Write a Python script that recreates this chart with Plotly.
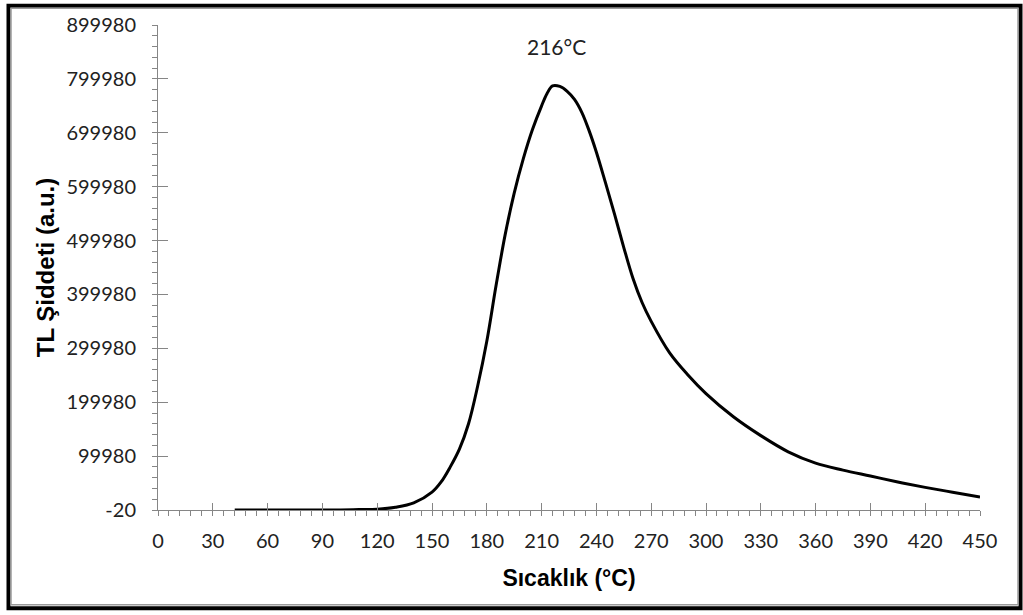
import plotly.graph_objects as go

# Glow curve: temperature (°C) vs TL intensity (a.u.)
temperature = [42, 60, 80, 100, 110, 120, 130, 140, 150, 155, 160, 165, 170, 175,
               180, 185, 190, 195, 200, 205, 210, 213, 216, 220, 224, 228, 232, 236,
               240, 245, 250, 255, 260, 265, 270, 280, 290, 300, 315, 330, 345, 360,
               375, 390, 405, 420, 435, 450]
intensity = [0, 0, 0, 200, 800, 1500, 5000, 13000, 33000, 52000, 80000, 113000,
             160000, 230000, 313000, 415000, 510000, 588000, 652000, 706000,
             750000, 773000, 787000, 786000, 777000, 762000, 738000, 704000,
             664000, 607000, 548000, 487000, 430000, 385000, 350000, 292000,
             251000, 216000, 173000, 138000, 108000, 87000, 74000, 63000, 52000,
             42000, 33000, 24000]

peak_label = "216°C"
peak_temp = 216
peak_label_y = 856000

y_ticks = [-20, 99980, 199980, 299980, 399980, 499980, 599980, 699980, 799980, 899980]
x_ticks = list(range(0, 451, 30))

x_title = "Sıcaklık (°C)"
y_title = "TL Şiddeti (a.u.)"

W, H = 1023, 615
L, R, T, B = 158, 43, 21, 105
PW, PH = W - L - R, H - T - B

axis_grey = "#868686"
tick_font = dict(family="Lato, Open Sans, sans-serif", size=20, color="#222222")
x_title_font = dict(family="Liberation Sans, Arial, sans-serif", size=23,
                    color="#000000", weight="bold")
y_title_font = dict(family="Liberation Sans, Arial, sans-serif", size=24,
                    color="#000000", weight="bold")

fig = go.Figure()
fig.add_trace(go.Scatter(
    x=temperature, y=intensity, mode="lines",
    line=dict(color="#000000", width=3, shape="spline", smoothing=1.0),
    showlegend=False, hoverinfo="skip",
))
# empty trace that carries the overlay axes used for the inward half of the major ticks
fig.add_trace(go.Scatter(x=[], y=[], xaxis="x2", yaxis="y2", showlegend=False))

xr = [0, 450]
yr = [-20, 899980]

fig.update_layout(
    width=W, height=H,
    margin=dict(l=L, r=R, t=T, b=B),
    paper_bgcolor="white", plot_bgcolor="white",
    xaxis=dict(
        range=xr, tickvals=x_ticks, ticktext=[str(v) for v in x_ticks],
        showgrid=False, zeroline=False, showline=True, linecolor=axis_grey, linewidth=1,
        ticks="outside", ticklen=5, tickcolor=axis_grey, tickwidth=1,
        minor=dict(dtick=6, tick0=0, ticks="outside", ticklen=5, tickcolor=axis_grey, tickwidth=1),
        tickfont=tick_font, ticklabelstandoff=8,
        title=dict(text=x_title, font=x_title_font, standoff=18),
    ),
    yaxis=dict(
        range=yr, tickvals=y_ticks, ticktext=[str(v) for v in y_ticks],
        showgrid=False, zeroline=False, showline=True, linecolor=axis_grey, linewidth=1,
        ticks="outside", ticklen=5, tickcolor=axis_grey, tickwidth=1,
        minor=dict(dtick=20000, tick0=-20, ticks="outside", ticklen=5, tickcolor=axis_grey, tickwidth=1),
        tickfont=tick_font, ticklabelstandoff=12,
        title=dict(text=y_title, font=y_title_font, standoff=4),
    ),
    xaxis2=dict(
        range=xr, overlaying="x", anchor="y2", side="bottom", tickvals=x_ticks,
        showticklabels=False, showgrid=False, zeroline=False, showline=False,
        ticks="inside", ticklen=7, tickcolor=axis_grey, tickwidth=1,
    ),
    yaxis2=dict(
        range=yr, overlaying="y", anchor="x2", side="left", tickvals=y_ticks,
        showticklabels=False, showgrid=False, zeroline=False, showline=False,
        ticks="inside", ticklen=10, tickcolor=axis_grey, tickwidth=1,
    ),
    annotations=[dict(
        x=peak_temp, y=peak_label_y, xref="x", yref="y", text=peak_label,
        showarrow=False, xshift=4, yshift=2,
        font=dict(family="Lato, Open Sans, sans-serif", size=21, color="#222222"),
    )],
)


def px_x(p):
    return (p - L) / PW


def px_y(p):
    return (H - B - p) / PH


# frame around the whole figure: thick black outer line with a thin grey inner line
fig.add_shape(type="rect", xref="paper", yref="paper",
              x0=px_x(8.5), x1=px_x(1020.5), y0=px_y(609), y1=px_y(1.5),
              line=dict(color="#000000", width=4), layer="above")
fig.add_shape(type="rect", xref="paper", yref="paper",
              x0=px_x(11), x1=px_x(1018), y0=px_y(605.5), y1=px_y(4),
              line=dict(color="#9a9a9a", width=1.5), layer="above")

fig.write_html("out.html")
